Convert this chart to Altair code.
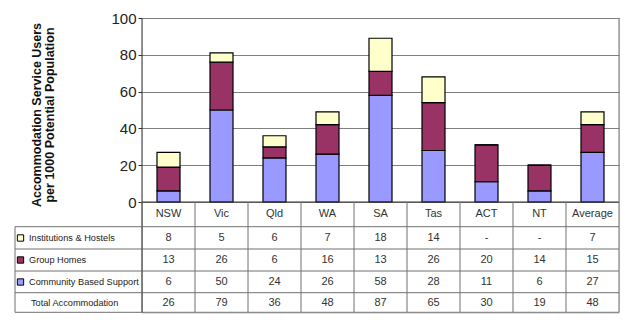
import altair as alt
import pandas as pd

categories = ["NSW", "Vic", "Qld", "WA", "SA", "Tas", "ACT", "NT", "Average"]
series_names = ["Institutions & Hostels", "Group Homes", "Community Based Support"]
institutions = [8, 5, 6, 7, 18, 14, 0, 0, 7]
institutions_labels = ["8", "5", "6", "7", "18", "14", "-", "-", "7"]
group_homes = [13, 26, 6, 16, 13, 26, 20, 14, 15]
community = [6, 50, 24, 26, 58, 28, 11, 6, 27]
totals = [26, 79, 36, 48, 87, 65, 30, 19, 48]
colors = ["#FFFFCC", "#993366", "#9999FF"]
y_ticks = [0, 20, 40, 60, 80, 100]

W, H = 477, 295
Y0 = 184  # pixel of value 0 inside plot
FONT = "Liberation Sans"

rows = []
for i, c in enumerate(categories):
    rows.append({"cat": c, "series": series_names[2], "value": community[i], "ord": 0})
    rows.append({"cat": c, "series": series_names[1], "value": group_homes[i], "ord": 1})
    rows.append({"cat": c, "series": series_names[0], "value": institutions[i], "ord": 2})
bars_df = pd.DataFrame(rows)

xenc = alt.X("cat:N", sort=categories, scale=alt.Scale(paddingInner=0, paddingOuter=0), axis=None)

bars = alt.Chart(bars_df).mark_bar(width=23, stroke="black", strokeWidth=1.2).encode(
    x=xenc,
    y=alt.Y("value:Q", stack="zero",
            scale=alt.Scale(domain=[0, 100], range=[Y0, 0]),
            axis=alt.Axis(values=y_ticks, grid=True, gridColor="#808080", gridWidth=1,
                          domain=False, tickSize=4, tickColor="#333333", labelPadding=2,
                          labelFontSize=15, labelColor="#222222", labelFont=FONT, title=None)),
    color=alt.Color("series:N", scale=alt.Scale(domain=series_names, range=colors), legend=None),
    order=alt.Order("ord:Q"),
)

one = pd.DataFrame({"a": [0]})
layers = []

def hline(y, x1, x2, color="#707070", w=1):
    return alt.Chart(one).mark_rule(color=color, strokeWidth=w).encode(
        x=alt.value(x1), x2=alt.value(x2), y=alt.value(y))

def vline(x, y1, y2, color="#707070", w=1):
    return alt.Chart(one).mark_rule(color=color, strokeWidth=w).encode(
        x=alt.value(x), y=alt.value(y1), y2=alt.value(y2))

table_lines_y = [208.7, 231, 253, 274.7, 294.3]
LEFT = -127
for y in table_lines_y:
    layers.append(hline(y, LEFT, W))
layers.append(hline(Y0, 0, W, color="#333333"))
layers.append(vline(LEFT, table_lines_y[0], table_lines_y[-1]))
layers.append(vline(0, 0, table_lines_y[-1], color="#333333"))
layers.append(vline(W, 0, table_lines_y[-1]))

cat_df = pd.DataFrame({"cat": categories})
layers.append(alt.Chart(cat_df).mark_rule(color="#707070", strokeWidth=1).encode(
    x=alt.X("cat:N", sort=categories, bandPosition=0, scale=alt.Scale(paddingInner=0, paddingOuter=0), axis=None),
    y=alt.value(Y0), y2=alt.value(table_lines_y[-1])))

def text_row(labels, ypix):
    df = pd.DataFrame({"cat": categories, "label": labels})
    return alt.Chart(df).mark_text(fontSize=11, font=FONT, color="#333333", baseline="middle").encode(
        x=xenc, y=alt.value(ypix), text="label:N")

layers.append(text_row(categories, 196))
layers.append(text_row(institutions_labels, 220))
layers.append(text_row([str(v) for v in group_homes], 242))
layers.append(text_row([str(v) for v in community], 264))
layers.append(text_row([str(v) for v in totals], 284.5))

legend_rows = [(series_names[0], colors[0], 220), (series_names[1], colors[1], 242),
               (series_names[2], colors[2], 264)]
for name, col, ypix in legend_rows:
    layers.append(alt.Chart(one).mark_square(size=40, fill=col, fillOpacity=1, stroke="black", strokeWidth=1).encode(
        x=alt.value(-121.5), y=alt.value(ypix)))
    layers.append(alt.Chart(one).mark_text(fontSize=9.2, font=FONT, color="#222222", align="left", baseline="middle").encode(
        x=alt.value(-113), y=alt.value(ypix), text=alt.value(name)))
layers.append(alt.Chart(one).mark_text(fontSize=9.2, font=FONT, color="#222222", align="left", baseline="middle").encode(
    x=alt.value(-111), y=alt.value(284.5), text=alt.value("Total Accommodation")))

title_lines = [("Accommodation Service Users", -105), ("per 1000 Potential Population", -92)]
for t, xp in title_lines:
    layers.append(alt.Chart(one).mark_text(fontSize=12.5, font=FONT, fontWeight="bold", color="#111111",
                                           angle=270, align="center", baseline="middle").encode(
        x=alt.value(xp), y=alt.value(97), text=alt.value(t)))

chart = alt.layer(bars, *layers).properties(
    width=W, height=H,
    autosize=alt.AutoSizeParams(type="none"),
    padding={"left": 142, "top": 18, "right": 14, "bottom": 12},
    background="white",
).configure_view(stroke=None).configure(font=FONT)

chart.save("out.html", embed_options={"renderer": "svg", "actions": False})
